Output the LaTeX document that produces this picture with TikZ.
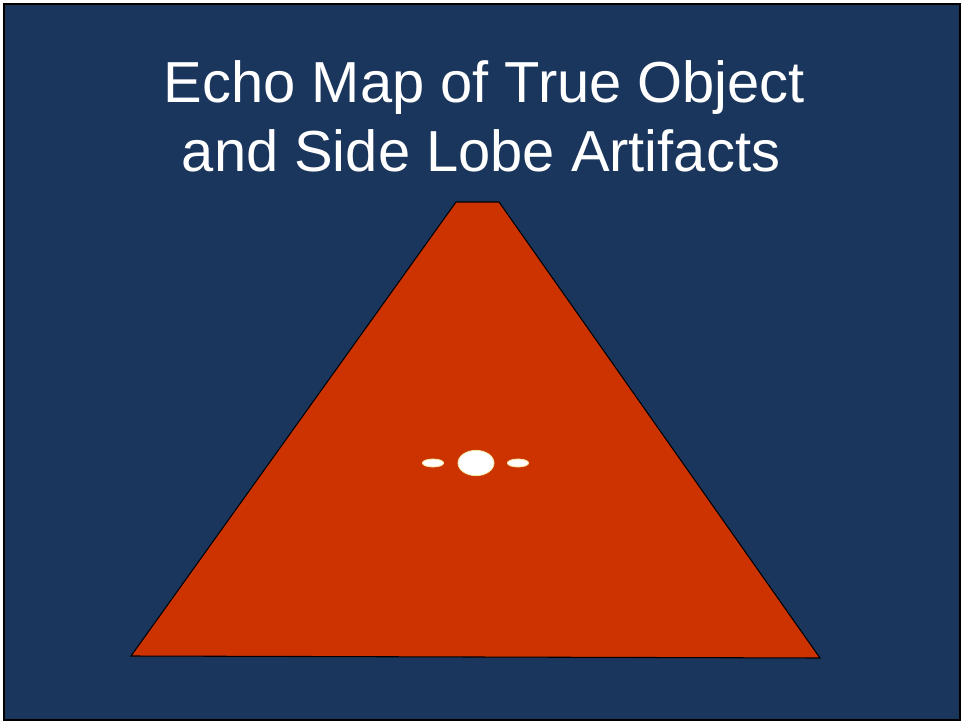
\documentclass[tikz,border=0pt]{standalone}
\usepackage{fontspec}
\setmainfont{Liberation Sans}
\usepackage{xcolor}
\usetikzlibrary{positioning,shapes.geometric}
\definecolor{navy}{HTML}{1B365D}
\definecolor{beamred}{HTML}{CC3300}
\definecolor{echoedge}{HTML}{F2E6A0}
\tikzset{
  frame/.style     = {fill=navy, draw=black, line width=1.5pt},
  beam/.style      = {fill=beamred, draw=black, line width=0.8pt, line join=miter},
  echo/.style      = {ellipse, fill=white, draw=echoedge, line width=0.6pt, inner sep=0pt},
  titletext/.style = {text=white, font=\fontsize{43.4}{52}\selectfont, inner sep=0pt},
}

\begin{document}
\begin{tikzpicture}[x=0.75pt, y=-0.75pt]
  \useasboundingbox (0,0) rectangle (961,721);
  \draw[frame] (3.5,3.5) rectangle (959.5,719.5);
  % title
  \node[titletext, anchor=base] (title1) at (484.5,102) {Echo Map of True Object};
  \node[titletext, anchor=base] (title2) at (481,171) {and Side Lobe Artifacts};
  % scan sector
  \draw[beam] (456,202) -- (499,202) -- (820,658) -- (131,656) -- cycle;
  % true object and side lobes
  \node[echo, minimum width=27pt, minimum height=19pt] (target) at (476,463) {};
  \node[echo, minimum width=16pt, minimum height=6pt] (lobeL) at (433,463) {};
  \node[echo, minimum width=16pt, minimum height=6pt] (lobeR) at (518,463) {};
\end{tikzpicture}
\end{document}
